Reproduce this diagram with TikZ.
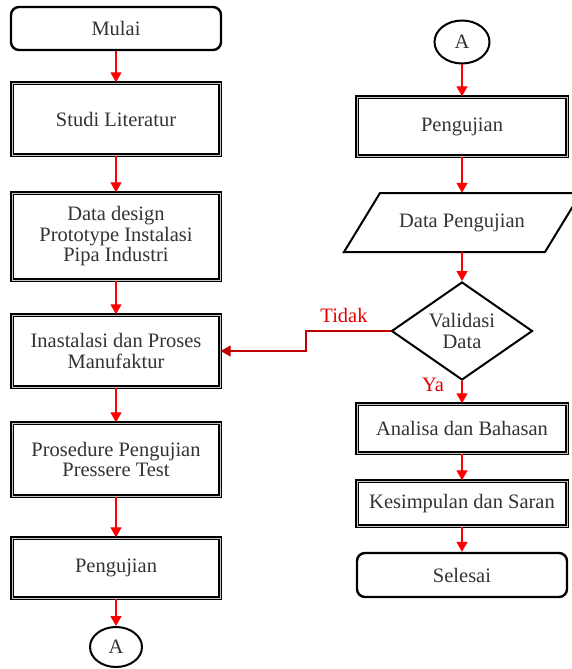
\documentclass[tikz,border=0pt]{standalone}
\usepackage{fontspec}
\setmainfont{Liberation Serif}
\usetikzlibrary{shapes.geometric,arrows.meta}
\begin{document}
\begin{tikzpicture}[x=1pt,y=-1pt,
  every node/.style={font=\fontsize{20.5}{20.5}\selectfont, text=black!80, align=center, inner sep=0pt},
  procbox/.style={draw=black, line width=1.4pt, double=gray!45, double distance=0.9pt, fill=white, rectangle},
  termbox/.style={draw=black, line width=2.4pt, rounded corners=8pt, fill=white, rectangle},
  conn/.style={draw=black, line width=2pt, ellipse, fill=white},
  flow/.style={red, line width=1.3pt, -{Triangle[width=11pt,length=10pt]}},
  noflow/.style={draw=red!75!black, line width=1.3pt, -{Triangle[width=11pt,length=10pt]}},
  lab/.style={text=red!90!black}
]
\useasboundingbox (0,0) rectangle (572,669);
\fill[white] (0,0) rectangle (572,669);

% left column
\node[termbox, minimum width=210, minimum height=43] (mulai) at (116,28.5) {Mulai};
\node[procbox, minimum width=208, minimum height=72] (studi) at (116,119) {Studi Literatur};
\node[procbox, minimum width=208, minimum height=87] (data) at (116,236.5) {Data design\\Prototype Instalasi\\Pipa Industri};
\node[procbox, minimum width=208, minimum height=72] (inas) at (116,351) {Inastalasi dan Proses\\Manufaktur};
\node[procbox, minimum width=208, minimum height=73] (pros) at (116,459.5) {Prosedure Pengujian\\Pressere Test};
\node[procbox, minimum width=208, minimum height=60] (peng1) at (116,568) {Pengujian};
\node[conn, minimum width=52, minimum height=40] (a1) at (116,647) {A};

% right column
\node[conn, minimum width=55, minimum height=43] (a2) at (462,42) {A};
\node[procbox, minimum width=210, minimum height=59] (peng2) at (462,126.5) {Pengujian};
\draw[draw=black, line width=2pt, line join=miter, fill=white] (380,193) -- (581,193) -- (545,252) -- (344,252) -- cycle;
\node[minimum width=150, minimum height=59] (dp) at (462,222.5) {Data Pengujian};
\node[diamond, draw=black, line width=2pt, fill=white, minimum width=141, minimum height=98] (val) at (462,331) {};
\node at (462,331) {Validasi\\Data};
\node[procbox, minimum width=210, minimum height=49] (anal) at (462,428.5) {Analisa dan Bahasan};
\node[procbox, minimum width=210, minimum height=45] (kes) at (462,503.5) {Kesimpulan dan Saran};
\node[termbox, minimum width=210, minimum height=44] (sel) at (462,575) {Selesai};

% connectors
\draw[flow] (mulai) -- (studi);
\draw[flow] (studi) -- (data);
\draw[flow] (data) -- (inas);
\draw[flow] (inas) -- (pros);
\draw[flow] (pros) -- (peng1);
\draw[flow] (peng1) -- (a1);
\draw[flow] (a2) -- (peng2);
\draw[flow] (peng2) -- (dp);
\draw[flow] (dp) -- (val);
\draw[flow] (val) -- (anal);
\draw[flow] (anal) -- (kes);
\draw[flow] (kes) -- (sel);
\coordinate (bend1) at (306,331);
\coordinate (bend2) at (306,351);
\draw[noflow] (val.west) -- (bend1) -- (bend2) -- (inas.east |- bend2);

\node[lab] at (344,315) {Tidak};
\node[lab] at (433,385) {Ya};
\end{tikzpicture}
\end{document}
